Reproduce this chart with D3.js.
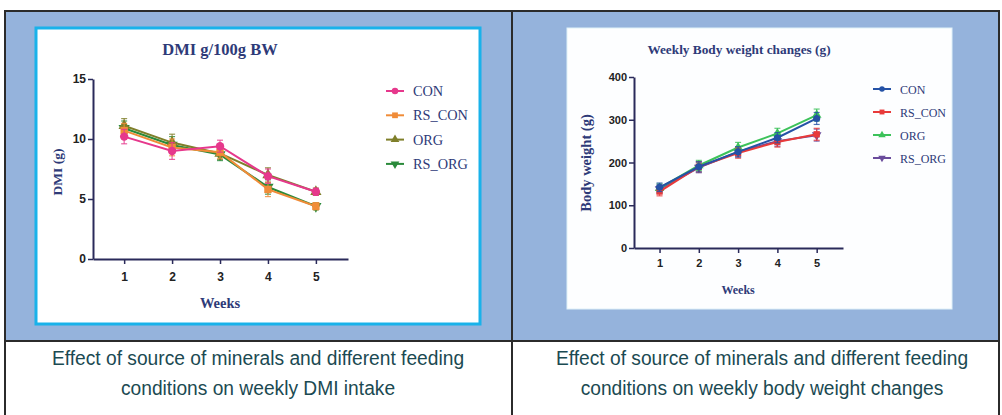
<!DOCTYPE html>
<html>
<head>
<meta charset="utf-8">
<script src="https://cdn.jsdelivr.net/npm/d3@7"></script>
<style>
  body { margin: 0; background: #fff; }
  svg { display: block; }
</style>
</head>
<body>
<svg id="fig" width="1002" height="415"></svg>
<script>
var weeks = [1, 2, 3, 4, 5];
var groups = ['CON', 'RS_CON', 'ORG', 'RS_ORG'];

// DMI g/100g BW
var dmiCON = [10.2, 9.0, 9.4, 6.9, 5.6];
var dmiRSCON = [10.7, 9.3, 8.9, 5.8, 4.4];
var dmiORG = [11.1, 9.7, 8.8, 7.0, 5.6];
var dmiRSORG = [10.9, 9.5, 8.7, 6.0, 4.4];
var dmiErr = [0.6, 0.7, 0.5, 0.6, 0.3];
var dmiTicks = [0, 5, 10, 15];

// Body weight (g)
var bwCON = [142, 190, 225, 258, 303];
var bwRSCON = [132, 190, 222, 248, 266];
var bwORG = [140, 193, 235, 268, 311];
var bwRSORG = [138, 188, 225, 250, 264];
var bwErr = [10, 12, 12, 12, 14];
var bwTicks = [0, 100, 200, 300, 400];

var captions = [
    ['Effect of source of minerals and different feeding', 'conditions on weekly DMI intake'],
    ['Effect of source of minerals and different feeding', 'conditions on weekly body weight changes']
];

var svg = d3.select('#fig');
var NAVY = '#2e3a78';

// table cells
svg.append('rect').attr('x', 5).attr('y', 11).attr('width', 994).attr('height', 330).attr('fill', '#95b3dc');
svg.append('line').attr('x1', 5).attr('x2', 1000).attr('y1', 11).attr('y2', 11).attr('stroke', '#2b2b2b').attr('stroke-width', 2);
svg.append('line').attr('x1', 5).attr('x2', 1000).attr('y1', 341).attr('y2', 341).attr('stroke', '#2b2b2b').attr('stroke-width', 2);
[5, 512, 999].forEach(function (x) {
    svg.append('line').attr('x1', x).attr('x2', x).attr('y1', 10).attr('y2', 415).attr('stroke', '#2b2b2b').attr('stroke-width', 2);
});

// white chart boxes
svg.append('rect').attr('x', 36).attr('y', 28).attr('width', 444).attr('height', 296)
    .attr('fill', '#fff').attr('stroke', '#19b2ea').attr('stroke-width', 3);
svg.append('rect').attr('x', 567).attr('y', 28).attr('width', 385).attr('height', 281)
    .attr('fill', '#fdfeff').attr('stroke', '#dff1f8').attr('stroke-width', 1);

var symbolFor = {
    'CON': d3.symbolCircle,
    'RS_CON': d3.symbolSquare,
    'ORG': d3.symbolTriangle,
    'RS_ORG': d3.symbolTriangle
};

var drawChart = function (cfg) {
    var g = svg.append('g');
    var x = d3.scaleLinear().domain([0.35, 5.67]).range([cfg.left, cfg.right]);
    var y = d3.scaleLinear().domain([0, cfg.ymax]).range([cfg.bottom, cfg.top]);

    g.append('text').attr('x', (cfg.titleX)).attr('y', cfg.titleY)
        .attr('text-anchor', 'middle').attr('fill', NAVY)
        .style('font-family', '"Liberation Serif", serif').style('font-weight', 'bold')
        .style('font-size', cfg.titleSize + 'px').text(cfg.title);

    var xAxis = g.append('g').attr('transform', 'translate(0,' + cfg.bottom + ')')
        .call(d3.axisBottom(x).tickValues(weeks).tickFormat(d3.format('d'))
            .tickSize(5).tickPadding(cfg.xPad).tickSizeOuter(0));
    var yAxis = g.append('g').attr('transform', 'translate(' + cfg.left + ',0)')
        .call(d3.axisLeft(y).tickValues(cfg.ticks).tickFormat(d3.format('d'))
            .tickSize(5).tickPadding(2).tickSizeOuter(0));
    [xAxis, yAxis].forEach(function (a) {
        a.select('.domain').attr('stroke', '#2a2a5a').attr('stroke-width', 2);
        a.selectAll('.tick line').attr('stroke', '#2a2a5a').attr('stroke-width', 1.5);
        a.selectAll('.tick text').attr('fill', '#222')
            .style('font-family', '"Liberation Sans", Arial, sans-serif')
            .style('font-weight', 'bold').style('font-size', cfg.tickSize + 'px');
    });

    g.append('text').attr('x', x(3)).attr('y', cfg.weeksY).attr('text-anchor', 'middle')
        .attr('fill', NAVY).style('font-family', '"Liberation Serif", serif')
        .style('font-weight', 'bold').style('font-size', cfg.weeksSize + 'px').text('Weeks');
    g.append('text').attr('transform', 'translate(' + cfg.ylabX + ',' + cfg.ylabY + ') rotate(-90)')
        .attr('text-anchor', 'middle').attr('fill', NAVY)
        .style('font-family', '"Liberation Serif", serif').style('font-weight', 'bold')
        .style('font-size', cfg.ylabSize + 'px').text(cfg.ylab);

    var line = d3.line().x(function (d) { return x(d.w); }).y(function (d) { return y(d.v); });

    // last group drawn first so CON ends on top
    d3.range(cfg.series.length).reverse().forEach(function (i) {
        var s = cfg.series[i];
        var pts = weeks.map(function (w, j) { return { w: w, v: s[j], e: cfg.err[j] }; });
        var sg = g.append('g');
        sg.selectAll('g.eb').data(pts).enter().append('g').attr('class', 'eb').each(function (d) {
            var eg = d3.select(this);
            eg.append('line').attr('x1', x(d.w)).attr('x2', x(d.w))
                .attr('y1', y(d.v - d.e)).attr('y2', y(d.v + d.e))
                .attr('stroke', cfg.colors[i]).attr('stroke-width', 1.2).attr('opacity', 0.8);
            [d.v - d.e, d.v + d.e].forEach(function (v) {
                eg.append('line').attr('x1', x(d.w) - 3).attr('x2', x(d.w) + 3)
                    .attr('y1', y(v)).attr('y2', y(v))
                    .attr('stroke', cfg.colors[i]).attr('stroke-width', 1.2).attr('opacity', 0.8);
            });
        });
        sg.append('path').datum(pts).attr('d', line).attr('fill', 'none')
            .attr('stroke', cfg.colors[i]).attr('stroke-width', 2);
        sg.selectAll('path.mk').data(pts).enter().append('path').attr('class', 'mk')
            .attr('transform', function (d) {
                return 'translate(' + x(d.w) + ',' + y(d.v) + ')' + (groups[i] === 'RS_ORG' ? ' rotate(180)' : '');
            })
            .attr('d', d3.symbol().type(symbolFor[groups[i]]).size(cfg.mkSize))
            .attr('fill', cfg.colors[i]);
    });

    var lg = g.append('g');
    groups.forEach(function (name, i) {
        var ly = cfg.legY + i * cfg.legStep;
        lg.append('line').attr('x1', cfg.legX - 9).attr('x2', cfg.legX + 9)
            .attr('y1', ly).attr('y2', ly).attr('stroke', cfg.colors[i]).attr('stroke-width', 2);
        lg.append('path').attr('transform', 'translate(' + cfg.legX + ',' + ly + ')' + (name === 'RS_ORG' ? ' rotate(180)' : ''))
            .attr('d', d3.symbol().type(symbolFor[name]).size(cfg.mkSize * 0.6)).attr('fill', cfg.colors[i]);
        lg.append('text').attr('x', cfg.legX + 18).attr('y', ly + 5).attr('fill', NAVY)
            .style('font-family', '"Liberation Serif", serif').style('font-size', cfg.legSize + 'px')
            .text(name);
    });
};

drawChart({
    title: 'DMI g/100g BW', titleX: 220, titleY: 55, titleSize: 16.5,
    left: 93, right: 348, top: 79, bottom: 259, ymax: 15, ticks: dmiTicks,
    xPad: 8, tickSize: 12, weeksY: 308, weeksSize: 14.5,
    ylab: 'DMI (g)', ylabX: 62, ylabY: 172, ylabSize: 13.5,
    series: [dmiCON, dmiRSCON, dmiORG, dmiRSORG], err: dmiErr,
    colors: ['#e6388c', '#f08c38', '#7f7f2a', '#2a8a3a'], mkSize: 55,
    legX: 395, legY: 91, legStep: 24.3, legSize: 14.3
});

drawChart({
    title: 'Weekly Body weight changes (g)', titleX: 739, titleY: 54, titleSize: 13.3,
    left: 634, right: 843, top: 77, bottom: 248, ymax: 400, ticks: bwTicks,
    xPad: 6, tickSize: 11, weeksY: 294, weeksSize: 12,
    ylab: 'Body weight (g)', ylabX: 591, ylabY: 163, ylabSize: 14.5,
    series: [bwCON, bwRSCON, bwORG, bwRSORG], err: bwErr,
    colors: ['#2552a6', '#e83a3a', '#3cc25a', '#6a4c9c'], mkSize: 40,
    legX: 882, legY: 89, legStep: 23, legSize: 12
});

// captions
[258, 762].forEach(function (cx, i) {
    captions[i].forEach(function (t, j) {
        svg.append('text').attr('transform', 'translate(' + cx + ',' + (365 + j * 30) + ') scale(0.96,1)')
            .attr('text-anchor', 'middle')
            .attr('fill', '#1b4a52').style('font-family', '"Liberation Sans", Arial, sans-serif')
            .style('font-size', '20px').text(t);
    });
});
</script>
</body>
</html>
